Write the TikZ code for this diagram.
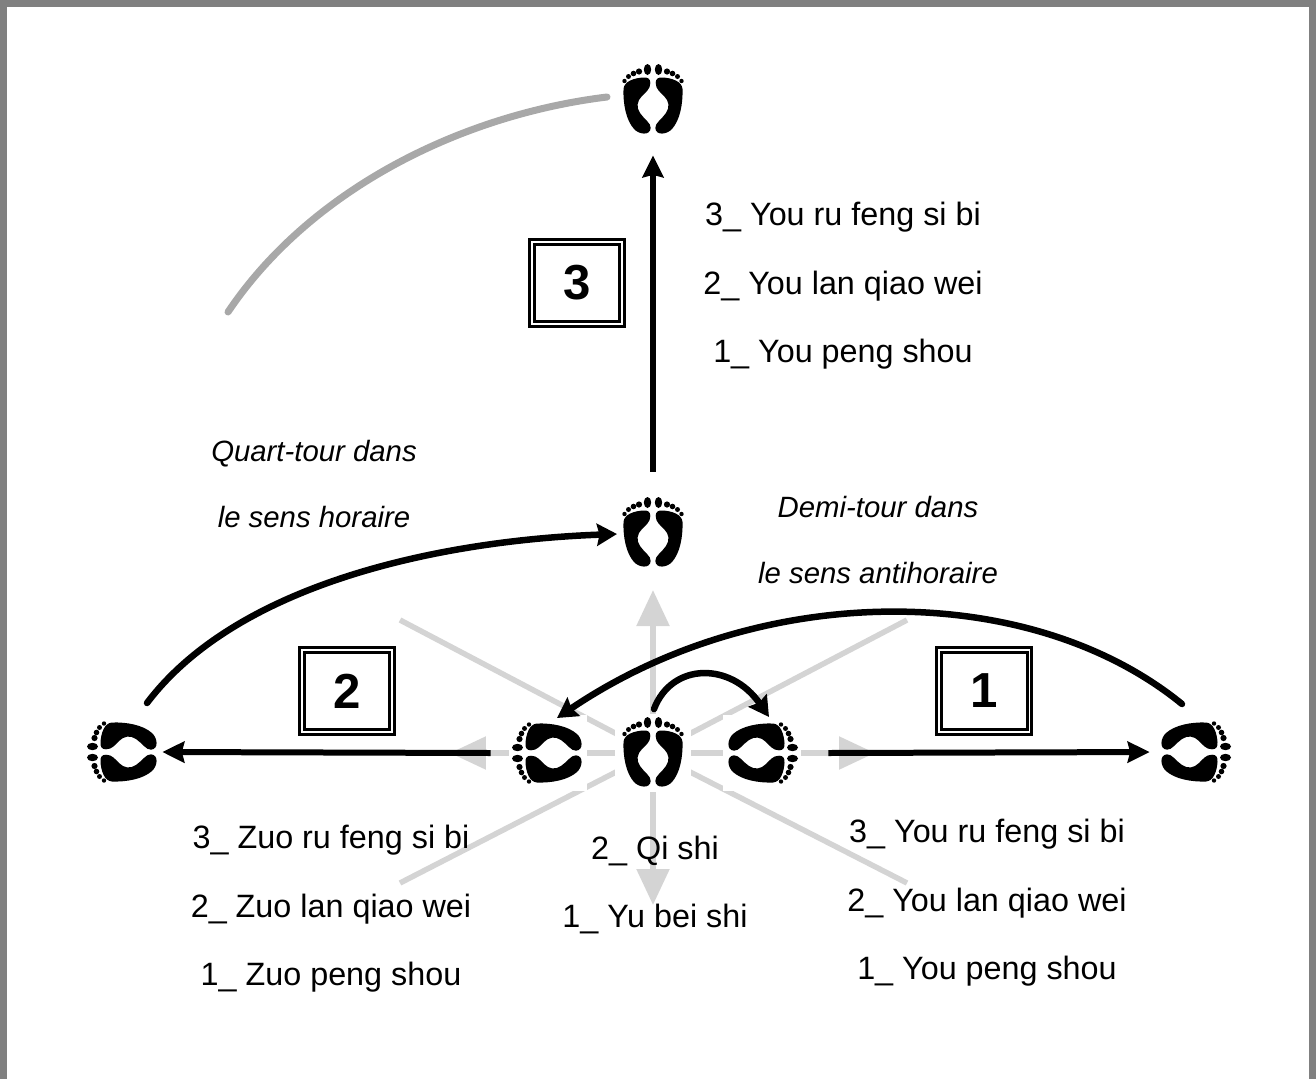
\documentclass[tikz,border=0pt]{standalone}
\usepackage{fontspec}
\setmainfont{Liberation Sans}
\usetikzlibrary{arrows.meta}
\definecolor{framegray}{HTML}{808080}
\definecolor{stargray}{HTML}{D4D4D4}
\definecolor{arcgray}{HTML}{A8A8A8}
\newcommand{\feet}{\tikz[x=0.02cm,y=-0.02cm]{
	\foreach \s in {1,-1} {
		\fill [black, xscale=\s] (2.7,-17) .. controls (2.7,-21) and (5,-23) .. (10,-22.5) .. controls (18,-22) and (29,-19) .. (29.5,-11) .. controls (30,4) and (27,20) .. (19,29) .. controls (14,34.5) and (3,36) .. (2.3,28) .. controls (2,23) and (9,19) .. (13,13) .. controls (17,7) and (16,1) .. (11,-4) .. controls (7,-8) and (2.7,-11) .. (2.7,-17) -- cycle;
		\fill [black, xscale=\s] (5.5,-30.5) ellipse (3.7 and 5.5);
		\fill [black, xscale=\s] (14,-28.5) circle (3.1);
		\fill [black, xscale=\s] (19.5,-26.5) circle (2.8);
		\fill [black, xscale=\s] (24.5,-23.5) circle (2.5);
		\fill [black, xscale=\s] (28.5,-19) circle (2.2);
	}
}}
\tikzstyle{feetnode} = [rectangle, fill=white, inner sep=0pt, minimum width=1.52cm, minimum height=1.56cm]
\tikzstyle{label} = [align=center, font=\fontsize{18.4}{39}\selectfont]
\tikzstyle{note} = [align=center, font=\fontsize{16.7}{37.6}\selectfont\itshape]
\tikzstyle{number} = [rectangle, draw=black, line width=0.06cm, double=white, double distance=0.04cm, minimum width=1.82cm, minimum height=1.64cm, inner sep=0pt, font=\fontsize{28}{30}\selectfont\bfseries]
\tikzstyle{arrow} = [line width=0.12cm, black, -{Stealth[length=0.44cm, width=0.42cm, inset=0.05cm]}]
\tikzstyle{curvearrow} = [line width=0.13cm, black, line cap=round, -{Stealth[length=0.4cm, width=0.44cm, inset=0.05cm]}]
\tikzstyle{ray} = [line width=0.11cm, stargray]
\tikzstyle{rayarrow} = [ray, -{Stealth[length=0.72cm, width=0.64cm, inset=0cm]}]

\begin{document}
\begin{tikzpicture}[x=0.02cm,y=-0.02cm]
	\path [use as bounding box] (0,0) rectangle (1316,1079);
	\draw [framegray, line width=0.14cm] (3.5,1079) -- (3.5,3.5) -- (1312.5,3.5) -- (1312.5,1079);
	% directions
	\coordinate (c) at (653,753);
	\coordinate (rayN) at (653,590);
	\coordinate (rayS) at (653,905);
	\coordinate (rayW) at (450,753);
	\coordinate (rayE) at (875,753);
	\coordinate (rayNW) at (400,620);
	\coordinate (rayNE) at (907,620);
	\coordinate (raySW) at (400,883);
	\coordinate (raySE) at (907,883);
	\draw [rayarrow] (c) -- (rayN);
	\draw [rayarrow] (c) -- (rayS);
	\draw [rayarrow] (c) -- (rayW);
	\draw [rayarrow] (c) -- (rayE);
	\draw [ray] (c) -- (rayNW);
	\draw [ray] (c) -- (rayNE);
	\draw [ray] (c) -- (raySW);
	\draw [ray] (c) -- (raySE);
	% feet
	\node (fCentre) [feetnode] at (653,753) {\feet};
	\node (fIn1) [feetnode, rotate=-90] at (762,753) {\feet};
	\node (fIn2) [feetnode, rotate=90] at (548,753) {\feet};
	\node (fOut1) [feetnode, rotate=-90] at (1195,752) {\feet};
	\node (fOut2) [feetnode, rotate=90] at (123,752) {\feet};
	\node (fMid) [feetnode] at (653,533) {\feet};
	\node (fTop) [feetnode] at (653,100) {\feet};
	% arrows
	\draw [arrow, shorten >=0.32cm] (fMid.north) ++(0,-22) -- (fTop.south);
	\draw [arrow] (fIn2.north) ++(-18,0) -- (fOut2.south);
	\draw [arrow, shorten >=0.12cm] (fIn1.north) ++(27,0) -- (fOut1.south);
	\coordinate (a0) at (147,703);
	\coordinate (a1) at (617,534);
	\draw [curvearrow] (a0) .. controls (240,580) and (450,540) .. (a1);
	\coordinate (b0) at (1182,704);
	\coordinate (b1) at (557,718);
	\draw [curvearrow] (b0) .. controls (1030,580) and (761,580) .. (b1);
	\coordinate (d0) at (654,709);
	\coordinate (d1) at (769,717);
	\draw [curvearrow] (d0) .. controls (672,662) and (731,662) .. (d1);
	\coordinate (e0) at (228,312);
	\coordinate (e1) at (607,97);
	\draw [arcgray, line width=0.14cm, line cap=round] (e0) .. controls (310,190) and (460,115) .. (e1);
	% boxes
	\node (n1) [number] at (984,691) {1};
	\node (n2) [number] at (347,691) {2};
	\node (n3) [number] at (577,283) {3};
	% texts
	\node (t3) [label] at (843,286) {3\_ You ru feng si bi\\2\_ You lan qiao wei\\1\_ You peng shou};
	\node (t2) [label] at (331,909) {3\_ Zuo ru feng si bi\\2\_ Zuo lan qiao wei\\1\_ Zuo peng shou};
	\node (t0) [label] at (655,885) {2\_ Qi shi\\1\_ Yu bei shi};
	\node (t1) [label] at (987,903) {3\_ You ru feng si bi\\2\_ You lan qiao wei\\1\_ You peng shou};
	\node (q) [note] at (314,484) {Quart-tour dans\\le sens horaire};
	\node (h) [note] at (878,540) {Demi-tour dans\\le sens antihoraire};
\end{tikzpicture}
\end{document}
